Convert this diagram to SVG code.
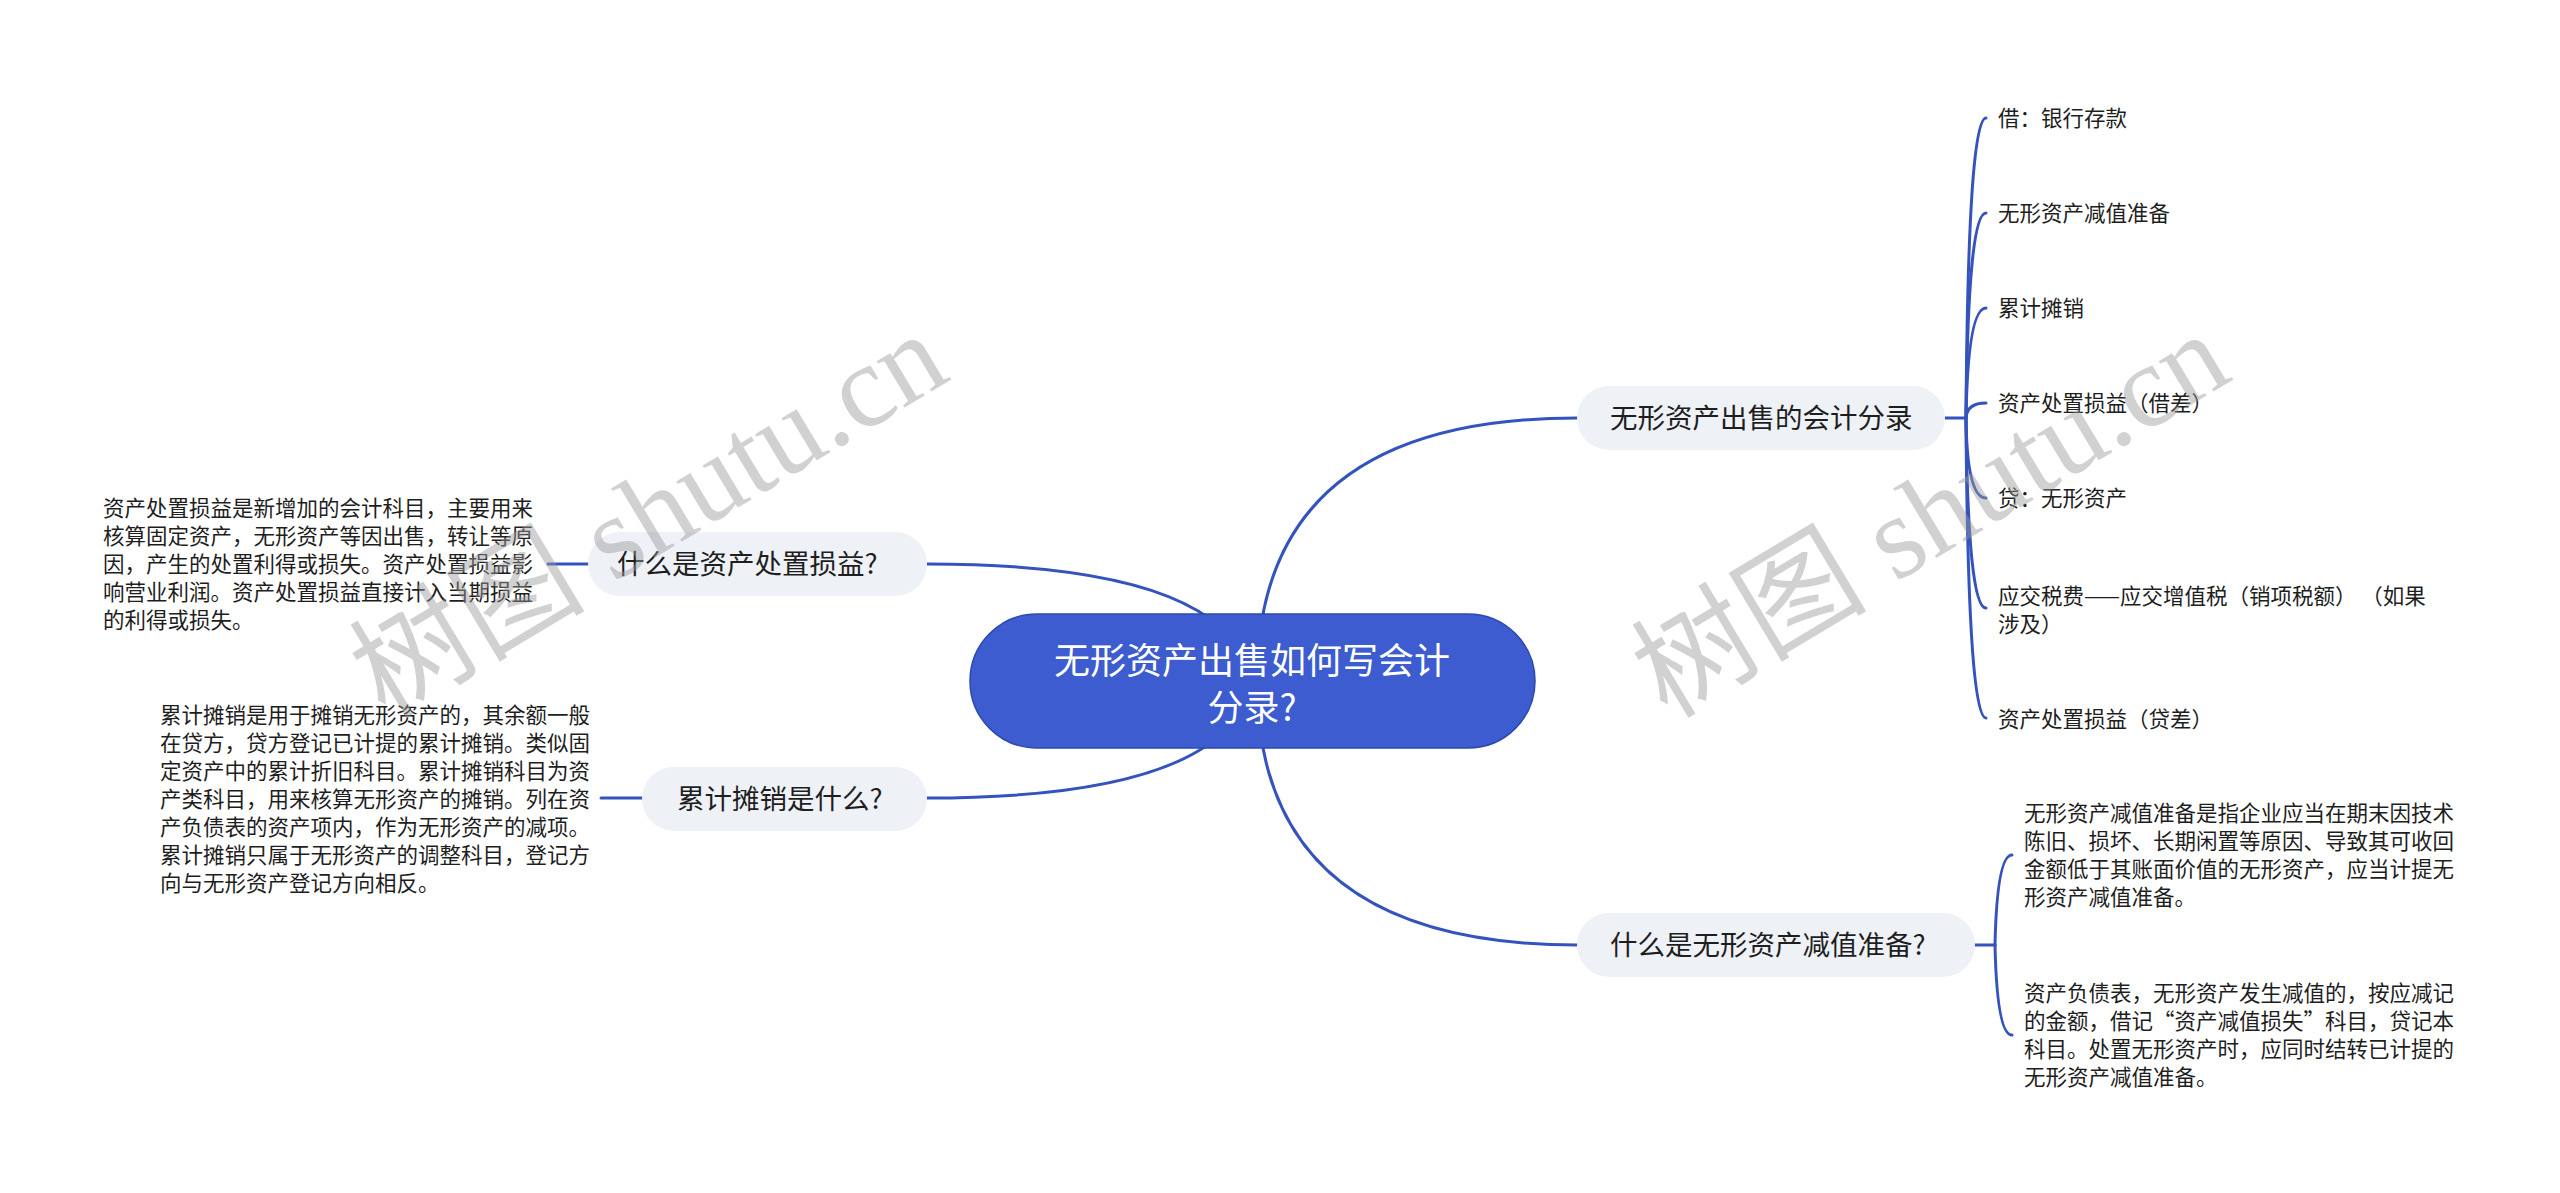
<svg xmlns="http://www.w3.org/2000/svg" width="2560" height="1193" viewBox="0 0 2560 1193">
<style>
.bg{fill:#ffffff}
.conn{fill:none;stroke:#3553bd;stroke-width:3;stroke-linecap:round}
.pill{fill:#eef1f6}
.ptxt{font-family:"Noto Sans CJK SC","Noto Sans",sans-serif;font-size:27.5px;fill:#1e1e1e}
.desc{font-family:"Noto Sans CJK SC","Noto Sans",sans-serif;font-size:21.5px;fill:#1e1e1e}
.ctxt{font-family:"Noto Sans CJK SC","Noto Sans",sans-serif;font-size:36px;fill:#ffffff}
.wm{font-family:"Liberation Serif","Noto Sans CJK SC",serif;font-size:118px;fill:#9a9a9a;opacity:0.45}
</style>
<rect class="bg" x="0" y="0" width="2560" height="1193"/>
<g id="connectors">
<path class="conn" d="M1257 681 Q1257 418 1577 418"/>
<path class="conn" d="M1257 681 Q1257 945 1577 945"/>
<path class="conn" d="M1252 681 Q1230 564 927 564"/>
<path class="conn" d="M1252 681 Q1230 798 927 798"/>
<path class="conn" d="M548 564 L588 564"/>
<path class="conn" d="M601 798 L642 798"/>
<path class="conn" d="M1945 418 L1966 418"/>
<path class="conn" d="M1966 418 Q1968 118 1986 118"/>
<path class="conn" d="M1966 418 Q1968 213 1986 213"/>
<path class="conn" d="M1966 418 Q1968 308 1986 308"/>
<path class="conn" d="M1966 418 Q1967 403 1986 403"/>
<path class="conn" d="M1966 418 Q1967 498 1986 498"/>
<path class="conn" d="M1966 418 Q1968 608 1986 608"/>
<path class="conn" d="M1966 418 Q1968 718 1986 718"/>
<path class="conn" d="M1975 945 L1995 945"/>
<path class="conn" d="M1995 945 Q1997 855 2012 855"/>
<path class="conn" d="M1995 945 Q1997 1035 2012 1035"/>
</g>
<g id="root">
<rect x="970" y="614" width="565" height="134" rx="67" fill="#3c5ccf" stroke="#2e49ad" stroke-width="1.5"/>
<text class="ctxt" x="1252" y="674" text-anchor="middle">无形资产出售如何写会计</text>
<text class="ctxt" x="1252" y="721" text-anchor="middle">分录?</text>
</g>
<g id="n-sale">
<rect class="pill" x="1577" y="386" width="368" height="64" rx="32"/>
<text class="ptxt" x="1610" y="428">无形资产出售的会计分录</text>
</g>
<g id="n-impair">
<rect class="pill" x="1577" y="913" width="398" height="64" rx="32"/>
<text class="ptxt" x="1610" y="955">什么是无形资产减值准备?</text>
</g>
<g id="n-disposal">
<rect class="pill" x="588" y="532" width="339" height="64" rx="32"/>
<text class="ptxt" x="617" y="574">什么是资产处置损益?</text>
</g>
<g id="n-amort">
<rect class="pill" x="642" y="767" width="285" height="64" rx="32"/>
<text class="ptxt" x="677" y="809">累计摊销是什么?</text>
</g>
<g id="c1"><text class="desc" x="1998" y="126">借：银行存款</text></g>
<g id="c2"><text class="desc" x="1998" y="221">无形资产减值准备</text></g>
<g id="c3"><text class="desc" x="1998" y="316">累计摊销</text></g>
<g id="c4"><text class="desc" x="1998" y="411">资产处置损益（借差）</text></g>
<g id="c5"><text class="desc" x="1998" y="506">贷：无形资产</text></g>
<g id="c6"><text class="desc" x="1998" y="604" xml:space="preserve">应交税费——应交增值税（销项税额） （如果</text><text class="desc" x="1998" y="632">涉及）</text></g>
<g id="c7"><text class="desc" x="1998" y="727">资产处置损益（贷差）</text></g>
<g id="d-impair1">
<text class="desc" x="2024" y="821">无形资产减值准备是指企业应当在期末因技术</text>
<text class="desc" x="2024" y="849">陈旧、损坏、长期闲置等原因、导致其可收回</text>
<text class="desc" x="2024" y="877">金额低于其账面价值的无形资产，应当计提无</text>
<text class="desc" x="2024" y="905">形资产减值准备。</text>
</g>
<g id="d-impair2">
<text class="desc" x="2024" y="1001">资产负债表，无形资产发生减值的，按应减记</text>
<text class="desc" x="2024" y="1029">的金额，借记“资产减值损失”科目，贷记本</text>
<text class="desc" x="2024" y="1057">科目。处置无形资产时，应同时结转已计提的</text>
<text class="desc" x="2024" y="1085">无形资产减值准备。</text>
</g>
<g id="d-disposal">
<text class="desc" x="103" y="516">资产处置损益是新增加的会计科目，主要用来</text>
<text class="desc" x="103" y="544">核算固定资产，无形资产等因出售，转让等原</text>
<text class="desc" x="103" y="572">因，产生的处置利得或损失。资产处置损益影</text>
<text class="desc" x="103" y="600">响营业利润。资产处置损益直接计入当期损益</text>
<text class="desc" x="103" y="628">的利得或损失。</text>
</g>
<g id="d-amort">
<text class="desc" x="160" y="723">累计摊销是用于摊销无形资产的，其余额一般</text>
<text class="desc" x="160" y="751">在贷方，贷方登记已计提的累计摊销。类似固</text>
<text class="desc" x="160" y="779">定资产中的累计折旧科目。累计摊销科目为资</text>
<text class="desc" x="160" y="807">产类科目，用来核算无形资产的摊销。列在资</text>
<text class="desc" x="160" y="835">产负债表的资产项内，作为无形资产的减项。</text>
<text class="desc" x="160" y="863">累计摊销只属于无形资产的调整科目，登记方</text>
<text class="desc" x="160" y="891">向与无形资产登记方向相反。</text>
</g>
<g id="watermarks">
<text class="wm" x="648" y="555" text-anchor="middle" transform="rotate(-31 648 514)">树图 shutu.cn</text>
<text class="wm" x="1930" y="555" text-anchor="middle" transform="rotate(-31 1930 514)">树图 shutu.cn</text>
</g>
</svg>
